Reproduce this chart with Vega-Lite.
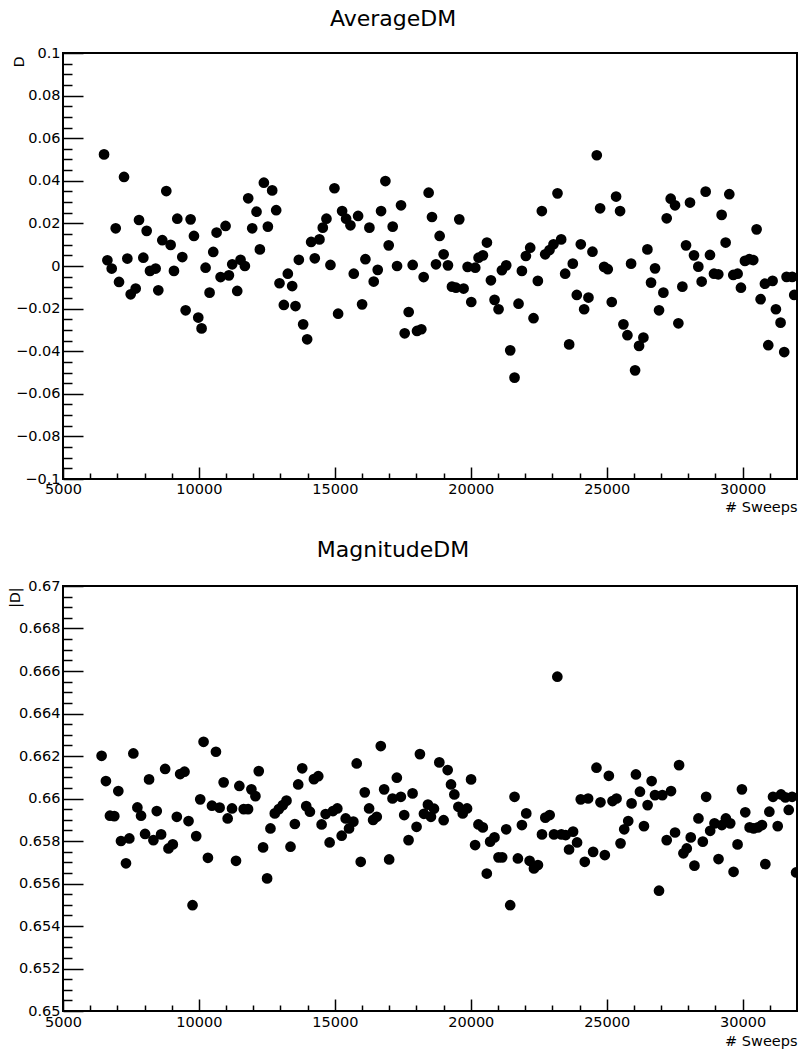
{
  "$schema": "https://vega.github.io/schema/vega-lite/v6.json",
  "background": "white",
  "padding": {"left": 6, "top": 7, "right": 3, "bottom": 2},
  "spacing": 23,
  "config": {
    "font": "DejaVu Sans",
    "view": {"stroke": "black", "strokeWidth": 2},
    "axis": {"labelColor": "black", "tickColor": "black", "titleColor": "black", "labelFont": "DejaVu Sans", "titleFont": "DejaVu Sans", "labelFontSize": 14.5, "titleFontSize": 14.5, "titleFontWeight": "normal", "grid": false, "domain": false, "labelFlush": false, "labelOverlap": false, "labelBound": false, "tickWidth": 1.5},
    "title": {"font": "DejaVu Sans", "fontSize": 22, "fontWeight": "normal", "color": "black", "anchor": "middle", "offset": 14}
  },
  "datasets": {
    "avg": [
      {"x":6510,"y":0.0524},{"x":6633,"y":0.0027},{"x":6792,"y":-0.0012},{"x":6939,"y":0.0177},{"x":7061,"y":-0.0075},{"x":7245,"y":0.0418},{"x":7367,"y":0.0035},{"x":7490,"y":-0.0133},{"x":7674,"y":-0.0106},{"x":7796,"y":0.0216},{"x":7955,"y":0.0039},{"x":8078,"y":0.0165},{"x":8200,"y":-0.0023},{"x":8408,"y":-0.0012},{"x":8506,"y":-0.0114},{"x":8653,"y":0.0121},{"x":8800,"y":0.0352},{"x":8959,"y":0.0099},{"x":9082,"y":-0.0023},{"x":9204,"y":0.0222},{"x":9388,"y":0.0042},{"x":9511,"y":-0.0208},{"x":9694,"y":0.0219},{"x":9817,"y":0.0141},{"x":9976,"y":-0.0242},{"x":10098,"y":-0.0293},{"x":10245,"y":-0.0008},{"x":10392,"y":-0.0125},{"x":10527,"y":0.0066},{"x":10650,"y":0.0157},{"x":10797,"y":-0.0052},{"x":10980,"y":0.0188},{"x":11103,"y":-0.0044},{"x":11225,"y":0.0008},{"x":11409,"y":-0.0117},{"x":11531,"y":0.0029},{"x":11690,"y":0.0},{"x":11813,"y":0.0318},{"x":11960,"y":0.0177},{"x":12119,"y":0.0255},{"x":12242,"y":0.0078},{"x":12389,"y":0.0391},{"x":12536,"y":0.0185},{"x":12695,"y":0.0355},{"x":12842,"y":0.0262},{"x":12964,"y":-0.0081},{"x":13124,"y":-0.0183},{"x":13270,"y":-0.0036},{"x":13430,"y":-0.0094},{"x":13552,"y":-0.0188},{"x":13675,"y":0.0029},{"x":13834,"y":-0.0274},{"x":13981,"y":-0.0344},{"x":14128,"y":0.0113},{"x":14262,"y":0.0036},{"x":14434,"y":0.0125},{"x":14556,"y":0.018},{"x":14691,"y":0.0222},{"x":14838,"y":0.0005},{"x":14985,"y":0.0365},{"x":15120,"y":-0.0224},{"x":15267,"y":0.0258},{"x":15414,"y":0.0222},{"x":15573,"y":0.0191},{"x":15696,"y":-0.0036},{"x":15855,"y":0.0235},{"x":16002,"y":-0.018},{"x":16124,"y":0.0032},{"x":16271,"y":0.018},{"x":16430,"y":-0.0073},{"x":16577,"y":-0.0018},{"x":16700,"y":0.0258},{"x":16859,"y":0.0399},{"x":16981,"y":0.0097},{"x":17128,"y":0.0185},{"x":17288,"y":0.0},{"x":17434,"y":0.0285},{"x":17569,"y":-0.0316},{"x":17716,"y":-0.0216},{"x":17863,"y":0.0005},{"x":18022,"y":-0.0305},{"x":18181,"y":-0.0297},{"x":18267,"y":-0.0052},
      {"x":18450,"y":0.0344},{"x":18573,"y":0.023},{"x":18720,"y":0.0008},{"x":18855,"y":0.0141},{"x":19002,"y":0.0055},{"x":19161,"y":0.0003},{"x":19308,"y":-0.0097},{"x":19455,"y":-0.0102},{"x":19577,"y":0.0219},{"x":19736,"y":-0.0106},{"x":19883,"y":-0.0004},{"x":20018,"y":-0.0169},{"x":20165,"y":-0.0008},{"x":20287,"y":0.0039},{"x":20447,"y":0.005},{"x":20594,"y":0.011},{"x":20741,"y":-0.0067},{"x":20875,"y":-0.0159},{"x":21022,"y":-0.0203},{"x":21145,"y":-0.002},{"x":21304,"y":0.0003},{"x":21451,"y":-0.0396},{"x":21610,"y":-0.0524},{"x":21757,"y":-0.0177},{"x":21880,"y":-0.0023},{"x":22027,"y":0.0047},{"x":22186,"y":0.0086},{"x":22308,"y":-0.0245},{"x":22467,"y":-0.007},{"x":22614,"y":0.0258},{"x":22737,"y":0.0055},{"x":22896,"y":0.0075},{"x":23043,"y":0.0102},{"x":23190,"y":0.0341},{"x":23325,"y":0.0125},{"x":23472,"y":-0.0036},{"x":23619,"y":-0.0368},{"x":23753,"y":0.0011},{"x":23900,"y":-0.0136},{"x":24047,"y":0.0102},{"x":24170,"y":-0.0203},{"x":24329,"y":-0.0148},{"x":24476,"y":0.0067},{"x":24635,"y":0.052},{"x":24758,"y":0.0271},{"x":24905,"y":-0.0004},{"x":25039,"y":-0.0015},{"x":25186,"y":-0.0169},{"x":25345,"y":0.0326},{"x":25492,"y":0.0258},{"x":25615,"y":-0.0274},{"x":25762,"y":-0.0325},{"x":25897,"y":0.0011},{"x":26044,"y":-0.049},{"x":26190,"y":-0.0375},{"x":26350,"y":-0.0336},{"x":26497,"y":0.0078},{"x":26631,"y":-0.0078},{"x":26778,"y":-0.0011},{"x":26925,"y":-0.0208},{"x":27085,"y":-0.0125},{"x":27207,"y":0.0224},{"x":27354,"y":0.0316},{"x":27513,"y":0.0285},{"x":27636,"y":-0.0269},{"x":27783,"y":-0.0097},{"x":27918,"y":0.0097},{"x":28064,"y":0.0298},{"x":28211,"y":0.005},{"x":28370,"y":-0.0003},{"x":28493,"y":-0.0073},{"x":28640,"y":0.0349},{"x":28799,"y":0.0052},{"x":28946,"y":-0.0036},{"x":29105,"y":-0.0039},{"x":29228,"y":0.024},{"x":29375,"y":0.011},{"x":29510,"y":0.0337},{"x":29656,"y":-0.0042},{"x":29816,"y":-0.0036},{"x":29938,"y":-0.0102},{"x":30085,"y":0.0024},{"x":30244,"y":0.0032},{"x":30391,"y":0.0028},{"x":30514,"y":0.0172},{"x":30661,"y":-0.0156},{"x":30820,"y":-0.0083},{"x":30943,"y":-0.0372},{"x":31102,"y":-0.007},{"x":31224,"y":-0.0203},{"x":31396,"y":-0.0266},{"x":31530,"y":-0.0404},{"x":31616,"y":-0.0051},{"x":31824,"y":-0.0051},{"x":31898,"y":-0.0136}
    ],
    "mag": [
      {"x":6420,"y":0.66201},{"x":6579,"y":0.66082},{"x":6727,"y":0.65919},{"x":6887,"y":0.65917},{"x":7035,"y":0.66035},{"x":7133,"y":0.658},{"x":7317,"y":0.65695},{"x":7440,"y":0.65812},{"x":7588,"y":0.66212},{"x":7736,"y":0.65958},{"x":7871,"y":0.65919},{"x":8019,"y":0.65833},{"x":8166,"y":0.6609},{"x":8326,"y":0.65804},{"x":8449,"y":0.65941},{"x":8609,"y":0.65831},{"x":8757,"y":0.66139},{"x":8880,"y":0.65765},{"x":9039,"y":0.65784},{"x":9187,"y":0.65914},{"x":9310,"y":0.66115},{"x":9470,"y":0.66126},{"x":9618,"y":0.65894},{"x":9765,"y":0.65498},{"x":9900,"y":0.65823},{"x":10048,"y":0.65996},{"x":10171,"y":0.66267},{"x":10331,"y":0.65721},{"x":10479,"y":0.65966},{"x":10626,"y":0.6622},{"x":10761,"y":0.65957},{"x":10909,"y":0.66076},{"x":11057,"y":0.65906},{"x":11217,"y":0.65953},{"x":11364,"y":0.65707},{"x":11487,"y":0.66059},{"x":11647,"y":0.6595},{"x":11807,"y":0.6595},{"x":11930,"y":0.66043},{"x":12078,"y":0.66011},{"x":12201,"y":0.66129},{"x":12360,"y":0.6577},{"x":12508,"y":0.65624},{"x":12631,"y":0.65859},{"x":12791,"y":0.6593},{"x":12939,"y":0.6595},{"x":13086,"y":0.65969},{"x":13221,"y":0.6599},{"x":13369,"y":0.65773},{"x":13529,"y":0.6588},{"x":13652,"y":0.66066},{"x":13800,"y":0.66142},{"x":13947,"y":0.65964},{"x":14082,"y":0.65938},{"x":14230,"y":0.66091},{"x":14390,"y":0.66105},{"x":14513,"y":0.65878},{"x":14661,"y":0.65927},{"x":14808,"y":0.65793},{"x":14931,"y":0.65941},{"x":15091,"y":0.65953},{"x":15251,"y":0.65825},{"x":15399,"y":0.65906},{"x":15522,"y":0.65859},{"x":15681,"y":0.65891},{"x":15804,"y":0.66165},{"x":15952,"y":0.65702},{"x":16100,"y":0.66029},{"x":16260,"y":0.65953},{"x":16407,"y":0.65899},{"x":16542,"y":0.65914},{"x":16690,"y":0.66247},{"x":16813,"y":0.66043},{"x":16998,"y":0.65713},{"x":17121,"y":0.66},{"x":17280,"y":0.66098},{"x":17428,"y":0.66008},{"x":17551,"y":0.65922},{"x":17711,"y":0.65804},{"x":17859,"y":0.66024},{"x":18006,"y":0.65867},{"x":18129,"y":0.66209},
      {"x":18277,"y":0.65928},{"x":18424,"y":0.65971},{"x":18535,"y":0.65914},{"x":18646,"y":0.65952},{"x":18843,"y":0.6617},{"x":19002,"y":0.65898},{"x":19150,"y":0.66134},{"x":19273,"y":0.66066},{"x":19396,"y":0.66019},{"x":19544,"y":0.65961},{"x":19704,"y":0.6593},{"x":19863,"y":0.65953},{"x":20011,"y":0.6609},{"x":20159,"y":0.65781},{"x":20282,"y":0.65878},{"x":20442,"y":0.65864},{"x":20589,"y":0.65647},{"x":20712,"y":0.65797},{"x":20872,"y":0.65817},{"x":21020,"y":0.65723},{"x":21155,"y":0.65723},{"x":21303,"y":0.65855},{"x":21450,"y":0.65498},{"x":21610,"y":0.66008},{"x":21733,"y":0.65718},{"x":21881,"y":0.65875},{"x":22041,"y":0.6593},{"x":22164,"y":0.65707},{"x":22323,"y":0.65671},{"x":22471,"y":0.65687},{"x":22619,"y":0.65831},{"x":22742,"y":0.6591},{"x":22902,"y":0.65922},{"x":23061,"y":0.65831},{"x":23184,"y":0.66573},{"x":23332,"y":0.65831},{"x":23492,"y":0.65828},{"x":23615,"y":0.6576},{"x":23763,"y":0.65844},{"x":23910,"y":0.65793},{"x":24045,"y":0.65996},{"x":24193,"y":0.65702},{"x":24316,"y":0.66},{"x":24501,"y":0.65749},{"x":24624,"y":0.66145},{"x":24771,"y":0.65982},{"x":24931,"y":0.65734},{"x":25079,"y":0.66107},{"x":25214,"y":0.65988},{"x":25362,"y":0.66},{"x":25509,"y":0.65789},{"x":25644,"y":0.65855},{"x":25792,"y":0.65894},{"x":25915,"y":0.65977},{"x":26075,"y":0.66113},{"x":26223,"y":0.66032},{"x":26370,"y":0.6587},{"x":26505,"y":0.65969},{"x":26653,"y":0.66082},{"x":26776,"y":0.66016},{"x":26924,"y":0.65566},{"x":27047,"y":0.66016},{"x":27207,"y":0.65804},{"x":27366,"y":0.66035},{"x":27514,"y":0.6584},{"x":27662,"y":0.66157},{"x":27822,"y":0.65742},{"x":27945,"y":0.65765},{"x":28092,"y":0.65817},{"x":28227,"y":0.65684},{"x":28375,"y":0.65906},{"x":28535,"y":0.65797},{"x":28658,"y":0.66008},{"x":28806,"y":0.65848},{"x":28965,"y":0.65883},{"x":29113,"y":0.65715},{"x":29236,"y":0.65875},{"x":29384,"y":0.65906},{"x":29544,"y":0.65883},{"x":29667,"y":0.65655},{"x":29814,"y":0.65784},{"x":29974,"y":0.66043},{"x":30097,"y":0.65935},{"x":30257,"y":0.65864},{"x":30405,"y":0.65859},{"x":30564,"y":0.65864},{"x":30712,"y":0.65875},{"x":30835,"y":0.65691},{"x":30983,"y":0.65938},{"x":31118,"y":0.66008},{"x":31290,"y":0.6587},{"x":31413,"y":0.66019},{"x":31573,"y":0.66005},{"x":31696,"y":0.65946},{"x":31819,"y":0.66008},{"x":31967,"y":0.65652}
    ]
  },
  "vconcat": [
    {
      "title": {"text": "AverageDM", "dx": -37},
      "width": 734,
      "height": 426,
      "data": {"name": "avg"},
      "layer": [
        {
          "mark": {"type": "circle", "color": "black", "size": 115, "opacity": 1, "clip": true},
          "encoding": {
            "x": {"field": "x", "type": "quantitative", "scale": {"domain": [5000, 32000], "nice": false, "zero": false},
                  "axis": {"orient": "bottom", "values": [5000, 10000, 15000, 20000, 25000, 30000], "format": "d", "tickSize": -12, "labelPadding": 15, "title": "# Sweeps", "titleAnchor": "end", "titleAlign": "right", "titleX": 734, "titleY": 28, "titleBaseline": "middle"}},
            "y": {"field": "y", "type": "quantitative", "scale": {"domain": [-0.1, 0.1], "nice": false, "zero": false},
                  "axis": {"orient": "left", "values": [-0.1, -0.08, -0.06, -0.04, -0.02, 0, 0.02, 0.04, 0.06, 0.08, 0.1], "format": ".2~f", "tickSize": -20, "labelPadding": 23, "title": "D", "titleAnchor": "end", "titleAlign": "right", "titleAngle": -90, "titleBaseline": "middle", "titleX": -44, "titleY": 3, "titleFontSize": 14}}
          }
        },
        {
          "mark": {"type": "circle", "color": "black", "size": 115, "opacity": 0},
          "encoding": {
            "x": {"field": "x", "type": "quantitative",
                  "axis": {"orient": "bottom", "values": [6000, 7000, 8000, 9000, 11000, 12000, 13000, 14000, 16000, 17000, 18000, 19000, 21000, 22000, 23000, 24000, 26000, 27000, 28000, 29000, 31000], "labels": false, "tickSize": -6, "title": null}},
            "y": {"field": "y", "type": "quantitative",
                  "axis": {"orient": "left", "values": [-0.095, -0.09, -0.085, -0.075, -0.07, -0.065, -0.055, -0.05, -0.045, -0.035, -0.03, -0.025, -0.015, -0.01, -0.005, 0.005, 0.01, 0.015, 0.025, 0.03, 0.035, 0.045, 0.05, 0.055, 0.065, 0.07, 0.075, 0.085, 0.09, 0.095], "labels": false, "tickSize": -9, "title": null}}
          }
        }
      ],
      "resolve": {"axis": {"x": "independent", "y": "independent"}}
    },
    {
      "title": {"text": "MagnitudeDM", "dx": -37, "offset": 16},
      "width": 734,
      "height": 425,
      "data": {"name": "mag"},
      "layer": [
        {
          "mark": {"type": "circle", "color": "black", "size": 115, "opacity": 1, "clip": true},
          "encoding": {
            "x": {"field": "x", "type": "quantitative", "scale": {"domain": [5000, 32000], "nice": false, "zero": false},
                  "axis": {"orient": "bottom", "values": [5000, 10000, 15000, 20000, 25000, 30000], "format": "d", "tickSize": -12, "labelPadding": 16, "title": "# Sweeps", "titleAnchor": "end", "titleAlign": "right", "titleX": 734, "titleY": 30, "titleBaseline": "middle"}},
            "y": {"field": "y", "type": "quantitative", "scale": {"domain": [0.65, 0.67], "nice": false, "zero": false},
                  "axis": {"orient": "left", "values": [0.65, 0.652, 0.654, 0.656, 0.658, 0.66, 0.662, 0.664, 0.666, 0.668, 0.67], "format": ".3~f", "tickSize": -20, "labelPadding": 23, "title": "|D|", "titleAnchor": "end", "titleAlign": "right", "titleAngle": -90, "titleBaseline": "middle", "titleX": -48, "titleY": 1, "titleFontSize": 14}}
          }
        },
        {
          "mark": {"type": "circle", "color": "black", "size": 115, "opacity": 0},
          "encoding": {
            "x": {"field": "x", "type": "quantitative",
                  "axis": {"orient": "bottom", "values": [6000, 7000, 8000, 9000, 11000, 12000, 13000, 14000, 16000, 17000, 18000, 19000, 21000, 22000, 23000, 24000, 26000, 27000, 28000, 29000, 31000], "labels": false, "tickSize": -6, "title": null}},
            "y": {"field": "y", "type": "quantitative",
                  "axis": {"orient": "left", "values": [0.6505, 0.651, 0.6515, 0.6525, 0.653, 0.6535, 0.6545, 0.655, 0.6555, 0.6565, 0.657, 0.6575, 0.6585, 0.659, 0.6595, 0.6605, 0.661, 0.6615, 0.6625, 0.663, 0.6635, 0.6645, 0.665, 0.6655, 0.6665, 0.667, 0.6675, 0.6685, 0.669, 0.6695], "labels": false, "tickSize": -9, "title": null}}
          }
        }
      ],
      "resolve": {"axis": {"x": "independent", "y": "independent"}}
    }
  ]
}
